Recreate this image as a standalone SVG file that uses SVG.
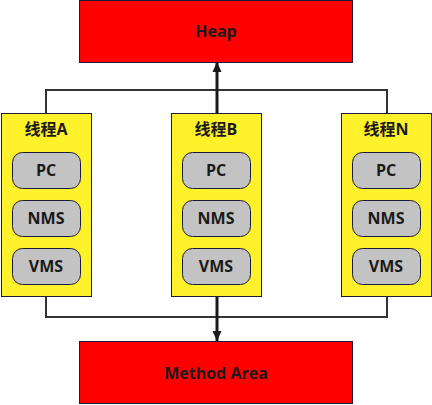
<svg xmlns="http://www.w3.org/2000/svg" width="432" height="405" viewBox="0 0 432 405">
<style>
.big{fill:#ff0000;stroke:#1a1a3a;stroke-width:1}
.thr{fill:#fff22a;stroke:#1a1a3a;stroke-width:1}
.reg{fill:#c3c3c3;stroke:#1a1a3a;stroke-width:1}
text{font-family:"Open Sans","Noto Sans CJK SC",sans-serif;font-weight:bold;fill:#1a1a1a;text-anchor:middle;font-size:16px}
.ln{fill:none;stroke:#333;stroke-width:2}
.ar{fill:none;stroke:#1a1a1a;stroke-width:3}
</style>
<defs>
<marker id="ah" markerWidth="10" markerHeight="10" refX="10" refY="5" orient="auto" markerUnits="userSpaceOnUse">
<path d="M0,0.5 L10,5 L0,9.5 z" fill="#1a1a1a"/>
</marker>
</defs>
<g id="connectors">
<path class="ln" d="M46,113 V90 H387 V113"/>
<path class="ar" d="M217,113 V62" marker-end="url(#ah)"/>
<path class="ln" d="M46,296 V317 H387 V296"/>
<path class="ar" d="M217,296 V341" marker-end="url(#ah)"/>
</g>
<g id="heap">
<rect class="big" x="79.5" y="0.5" width="273" height="62"/>
<text x="216" y="37">Heap</text>
</g>
<g id="method-area">
<rect class="big" x="79.5" y="341.5" width="273" height="62"/>
<text x="216" y="379">Method Area</text>
</g>
<g id="thread-a">
<rect class="thr" x="1.5" y="113.5" width="90" height="183"/>
<text x="46" y="135">线程A</text>
<rect class="reg" x="12.5" y="152.5" width="68" height="36" rx="10"/>
<text x="46" y="176">PC</text>
<rect class="reg" x="12.5" y="200.5" width="68" height="36" rx="10"/>
<text x="46" y="224">NMS</text>
<rect class="reg" x="12.5" y="248.5" width="68" height="36" rx="10"/>
<text x="46" y="272">VMS</text>
</g>
<g id="thread-b">
<rect class="thr" x="171.5" y="113.5" width="90" height="183"/>
<text x="216" y="135">线程B</text>
<rect class="reg" x="182.5" y="152.5" width="68" height="36" rx="10"/>
<text x="216" y="176">PC</text>
<rect class="reg" x="182.5" y="200.5" width="68" height="36" rx="10"/>
<text x="216" y="224">NMS</text>
<rect class="reg" x="182.5" y="248.5" width="68" height="36" rx="10"/>
<text x="216" y="272">VMS</text>
</g>
<g id="thread-n">
<rect class="thr" x="341.5" y="113.5" width="90" height="183"/>
<text x="386" y="135">线程N</text>
<rect class="reg" x="352.5" y="152.5" width="68" height="36" rx="10"/>
<text x="386" y="176">PC</text>
<rect class="reg" x="352.5" y="200.5" width="68" height="36" rx="10"/>
<text x="386" y="224">NMS</text>
<rect class="reg" x="352.5" y="248.5" width="68" height="36" rx="10"/>
<text x="386" y="272">VMS</text>
</g>
</svg>
